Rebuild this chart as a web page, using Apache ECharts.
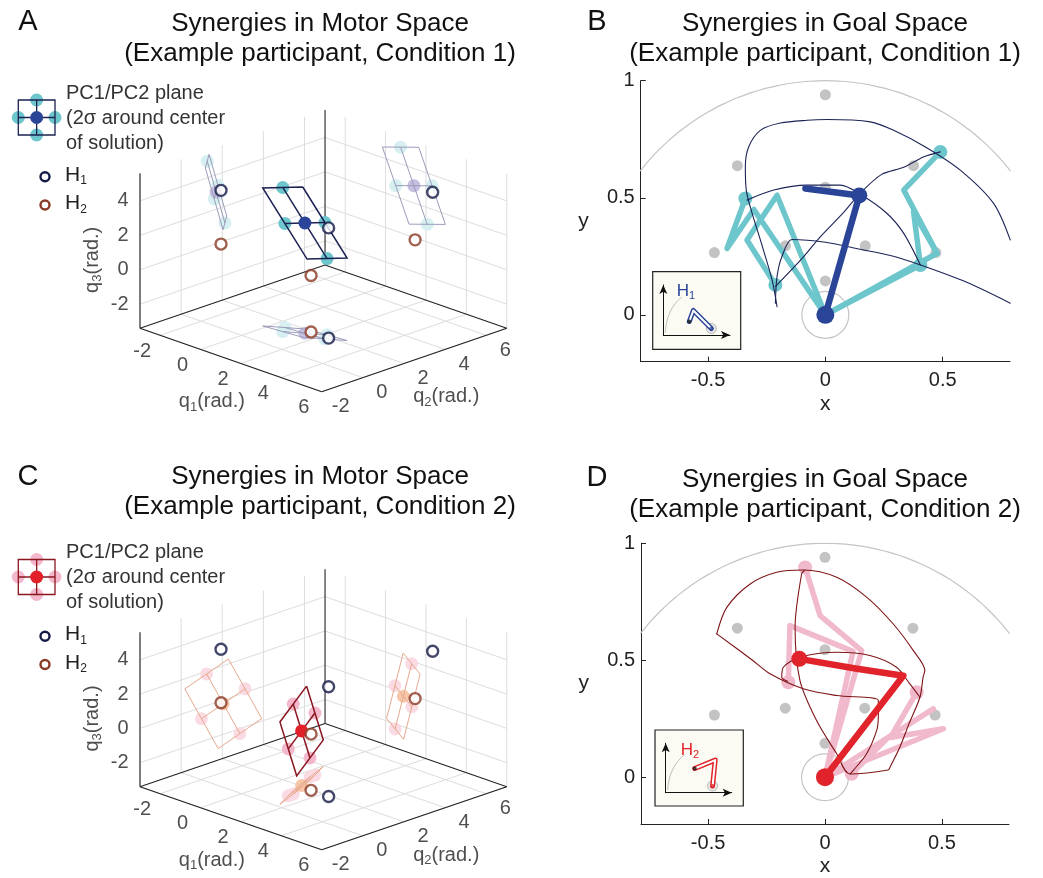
<!DOCTYPE html>
<html>
<head>
<meta charset="utf-8">
<title>Synergies in Motor Space and Goal Space</title>
<script src="https://cdn.jsdelivr.net/npm/echarts@6/dist/echarts.min.js"></script>
<style>
  html, body { margin: 0; padding: 0; background: #fff; }
  #chart { width: 1043px; height: 878px; }
</style>
</head>
<body>
<div id="chart"></div>
<script>
// ---------- motor space (A, C): joint angles in rad ----------
const q1Ticks = [-2, 0, 2, 4, 6]
const q2Ticks = [-2, 0, 2, 4, 6]
const q3Ticks = [-2, 0, 2, 4]
const q1Range = [-3, 6]
const q2Range = [-2, 7]
const q3Range = [-3.4, 5.6]

const h1Motor = [2.33, 1.94, 3.0]
const h2Motor = [1.46, 1.94, -0.12]

// center of solution + 2 sigma half axes of the PC1/PC2 plane
const cond1Center = [1.4, 1.7, 3.0]
const cond1Pc1 = [-0.66, -0.43, 1.97]
const cond1Pc2 = [0.9, 0.09, 0.36]
const cond2Center = [0.88, 2.05, -0.22]
const cond2Pc1 = [0.41, -0.81, 2.07]
const cond2Pc2 = [-0.42, 1.06, 0.44]

// ---------- goal space (B, D): hand position ----------
const xTicks = [-0.5, 0, 0.5]
const yTicks = [0, 0.5, 1]
const targetX = [0, -0.375, 0.376, -0.473, 0.471, 0, -0.17, 0.17, 0]
const targetY = [0.94, 0.637, 0.637, 0.266, 0.266, 0.545, 0.295, 0.295, 0.145]
const reachRadius = 1
const homeRadius = 0.1

const cond1Arm = [[0, 0], [0.145, 0.51], [-0.085, 0.54]]
const cond1Variants = [
  [[0, 0], [-0.305, 0.45], [-0.419, 0.284], [-0.341, 0.497]],
  [[0, 0], [-0.206, 0.511], [-0.334, 0.32], [-0.213, 0.128]],
  [[0, 0], [0.476, 0.263], [0.334, 0.533], [0.49, 0.696]],
  [[0, 0], [0.405, 0.213], [0.376, 0.44], [0.476, 0.263]]
]
const cond1Ends = [[-0.341, 0.497], [-0.213, 0.128], [0.49, 0.696], [0.405, 0.213]]
const cond1Edges = [
  [[-0.206, 0.035], [-0.227, 0.149], [-0.277, 0.32], [-0.312, 0.433], [-0.337, 0.533], [-0.341, 0.632], [-0.327, 0.717], [-0.277, 0.788], [-0.192, 0.819], [-0.078, 0.831], [0.007, 0.834], [0.192, 0.824], [0.291, 0.788], [0.43, 0.715], [0.575, 0.618], [0.717, 0.476], [0.788, 0.32]],
  [[-0.334, 0.49], [-0.22, 0.533], [-0.078, 0.554], [0.064, 0.554], [0.149, 0.515], [0.263, 0.433], [0.334, 0.348], [0.405, 0.213]],
  [[-0.213, 0.05], [-0.206, 0.163], [-0.185, 0.249], [-0.142, 0.322], [0, 0.31], [0.149, 0.28], [0.29, 0.25], [0.405, 0.213], [0.6, 0.14], [0.788, 0.05]],
  [[-0.213, 0.121], [-0.1, 0.24], [-0.021, 0.334], [0.08, 0.44], [0.149, 0.52], [0.24, 0.6], [0.334, 0.63], [0.42, 0.675], [0.49, 0.696]]
]

const cond2Arm = [[0, 0], [0.335, 0.434], [0.13, 0.465], [-0.11, 0.506]]
const cond2Variants = [
  [[0, 0], [0.157, 0.541], [-0.021, 0.691], [-0.085, 0.897]],
  [[0, 0], [0.12, 0.538], [-0.15, 0.648], [-0.157, 0.406]],
  [[0, 0], [0.506, 0.207], [0.28, 0.17], [0.392, 0.363]],
  [[0, 0], [0.463, 0.292], [0.27, 0.17], [0.114, 0.015]]
]
const cond2Ends = [[-0.085, 0.897], [-0.157, 0.406], [0.392, 0.363], [0.114, 0.015]]
const cond2Edges = [
  [[-0.463, 0.613], [-0.42, 0.726], [-0.32, 0.826], [-0.207, 0.876], [-0.093, 0.886], [0.05, 0.855], [0.178, 0.77], [0.292, 0.655], [0.378, 0.541], [0.427, 0.456], [0.42, 0.43], [0.406, 0.342], [0.36, 0.23], [0.32, 0.128], [0.278, 0.043], [0.27, 0.031], [0.107, 0.014], [0.05, 0.1], [-0.036, 0.242], [-0.107, 0.413], [-0.128, 0.641], [-0.1, 0.869], [-0.085, 0.886]],
  [[-0.463, 0.613], [-0.31, 0.5], [-0.235, 0.442], [-0.093, 0.378], [0.05, 0.349], [0.228, 0.328], [0.228, 0.26], [0.221, 0.2], [0.178, 0.1], [0.121, 0.029], [0.107, 0.014]],
  [[-0.16, 0.41], [-0.185, 0.427], [-0.178, 0.47], [-0.107, 0.513], [0.05, 0.534], [0.192, 0.52], [0.306, 0.47], [0.363, 0.399], [0.406, 0.342]]
]

// small sketch of the hand in the insets (inset units 0..1)
const insetArc = [[0.03, 0.05], [0.05, 0.25], [0.1, 0.45], [0.18, 0.63], [0.28, 0.76]]
const insetArmH1 = [[0.72, 0.13], [0.45, 0.49], [0.39, 0.27]]
const insetArmH2 = [[0.71, 0.135], [0.75, 0.66], [0.44, 0.49]]

const font = 'Liberation Sans, Arial, Helvetica, sans-serif'
const h1Color = '#141a46'
const h2Color = '#8a3a24'
const cond1Style = { plane: '#1b2152', dot: '#6cc6cc', center: '#2a4597', shadowLine: '#9c9cbc', shadowDot: '#d6eff1', shadowCenter: '#c6bfe0', arm: '#2a4597', variant: '#6cc6cc', edge: '#1c2457' }
const cond2Style = { plane: '#8a1620', dot: '#f3b8cb', center: '#e2202a', shadowLine: '#e8a88e', shadowDot: '#fadbe3', shadowCenter: '#f6c7a9', arm: '#e1232b', variant: '#f1b9cc', edge: '#7e1416' }

// oblique view used for the motor space cubes (pixel units of the hidden axes)
const view = { x0: 140, y0: 328.3, e1: [20.19, 7.04], e2: [20.56, -7.04], e3: [0, -17.22] }
function proj (p) {
  const a = p[0] - q1Range[0]
  const b = p[1] - q2Range[0]
  const c = p[2] - q3Range[0]
  return [view.x0 + a * view.e1[0] + b * view.e2[0] + c * view.e3[0],
    view.y0 + a * view.e1[1] + b * view.e2[1] + c * view.e3[1]]
}
const add = (p, v, s) => p.map((x, i) => x + s * v[i])
const onLeftWall = p => [q1Range[0], p[1], p[2]]
const onRightWall = p => [p[0], q2Range[1], p[2]]
const onFloor = p => [p[0], p[1], q3Range[0]]

const richSub = {
  a: { fontFamily: font, fontSize: 20, color: '#222', lineHeight: 24 },
  s: { fontFamily: font, fontSize: 13, color: '#222', lineHeight: 9, verticalAlign: 'bottom' }
}

function motorPanel (gi, center, pc1, pc2, c) {
  const [q1a, q1b] = q1Range
  const [q2a, q2b] = q2Range
  const [q3a, q3b] = q3Range
  const seg = (p, q) => ({ coords: [proj(p), proj(q)] })
  const walls = []
  q2Ticks.forEach(t => walls.push(seg([q1a, t, q3a], [q1a, t, q3b]), seg([q1a, t, q3a], [q1b, t, q3a])))
  q1Ticks.forEach(t => walls.push(seg([t, q2b, q3a], [t, q2b, q3b]), seg([t, q2a, q3a], [t, q2b, q3a])))
  q3Ticks.forEach(t => walls.push(seg([q1a, q2a, t], [q1a, q2b, t]), seg([q1a, q2b, t], [q1b, q2b, t])))
  const frame = [
    seg([q1a, q2a, q3a], [q1a, q2a, q3b]),
    seg([q1a, q2b, q3a], [q1a, q2b, q3b]),
    seg([q1a, q2a, q3a], [q1b, q2a, q3a]),
    seg([q1b, q2a, q3a], [q1b, q2b, q3a]),
    seg([q1a, q2b, q3a], [q1a, q2a, q3a]),
    seg([q1a, q2b, q3a], [q1b, q2b, q3a])
  ]
  const corners = [[1, 1], [1, -1], [-1, -1], [-1, 1], [1, 1]].map(([s, u]) => add(add(center, pc1, s), pc2, u))
  const ends = [[1, 0], [-1, 0], [0, 1], [0, -1]].map(([s, u]) => add(add(center, pc1, s), pc2, u))
  const plane = f => [
    { coords: corners.map(p => proj(f(p))) },
    { coords: [proj(f(ends[0])), proj(f(ends[1]))] },
    { coords: [proj(f(ends[2])), proj(f(ends[3]))] }
  ]
  const lines = (data, color, width, z) => ({
    type: 'lines', coordinateSystem: 'cartesian2d', xAxisIndex: gi, yAxisIndex: gi,
    polyline: true, silent: true, z, lineStyle: { color, width, opacity: 1 }, data
  })
  const dots = (pts, color, size, z, ring) => ({
    type: 'scatter', xAxisIndex: gi, yAxisIndex: gi, silent: true, z, symbolSize: size,
    itemStyle: ring ? { color: '#fff', borderColor: color, borderWidth: 2.4 } : { color, opacity: 1 },
    data: pts.map(proj)
  })
  const labels = (pts, texts, opt) => ({
    type: 'scatter', xAxisIndex: gi, yAxisIndex: gi, silent: true, z: 9, symbolSize: 1,
    itemStyle: { color: 'rgba(0,0,0,0)' },
    data: pts.map(proj),
    label: Object.assign({ show: true, position: 'inside', fontFamily: font, fontSize: 20, color: '#222', formatter: p => texts[p.dataIndex] }, opt)
  })
  const s = [lines(walls, '#dddddd', 1, 1), lines(frame, '#222', 1.1, 2)]
  ;[onLeftWall, onRightWall, onFloor].forEach(f => {
    s.push(dots(ends.map(f), c.shadowDot, 13, 3))
    s.push(dots([f(center)], c.shadowCenter, 13, 3))
    s.push(lines(plane(f), c.shadowLine, 1, 4))
  })
  s.push(dots(ends, c.dot, 13, 5))
  s.push(lines(plane(p => p), c.plane, 1.5, 6))
  s.push(dots([center], c.center, 13, 7))
  const withShadows = p => [p, onLeftWall(p), onRightWall(p), onFloor(p)]
  s.push(dots(withShadows(h1Motor), h1Color, 11, 8, true))
  s.push(dots(withShadows(h2Motor), h2Color, 11, 8, true))
  s.push(labels(q1Ticks.map(t => [t, q2a, q3a]), q1Ticks.map(String), { offset: [-18, 16] }))
  s.push(labels(q2Ticks.map(t => [q1b, t, q3a]), q2Ticks.map(String), { offset: [19, 15] }))
  s.push(labels(q3Ticks.map(t => [q1a, q2a, t]), q3Ticks.map(String), { position: 'left', distance: 11 }))
  s.push(labels([[(q1a + q1b) / 2, q2a, q3a]], ['{a|q}{s|1}{a|(rad.)}'], { offset: [-19, 42], rich: richSub }))
  s.push(labels([[q1b, (q2a + q2b) / 2, q3a]], ['{a|q}{s|2}{a|(rad.)}'], { offset: [32, 37], rich: richSub }))
  s.push(labels([[q1a, q2a, (q3a + q3b) / 2]], ['{a|q}{s|3}{a|(rad.)}'], { offset: [-9, -48], rotate: 90, rich: richSub }))
  return s
}

function arcPoints (r, a0, a1, step) {
  const pts = []
  for (let a = a0; a <= a1 + 1e-9; a += step) {
    const t = a * Math.PI / 180
    pts.push([r * Math.cos(t), r * Math.sin(t)])
  }
  return pts
}

function goalPanel (gi, c, arm, variants, ends, edges) {
  const line = (data, color, width, z, smooth) => ({
    type: 'line', xAxisIndex: gi, yAxisIndex: gi, data, symbol: 'none', silent: true, z,
    smooth: smooth || false, lineStyle: { color, width, cap: 'round', join: 'round' }
  })
  const dots = (data, color, size, z) => ({
    type: 'scatter', xAxisIndex: gi, yAxisIndex: gi, data, symbolSize: size, silent: true, z,
    itemStyle: { color, opacity: 1 }
  })
  const s = [
    line(arcPoints(reachRadius, 38, 142, 2), '#c4c4c4', 1.2, 1, true),
    line(arcPoints(homeRadius, 0, 360, 10), '#c4c4c4', 1.2, 1, true),
    dots(targetX.map((x, i) => [x, targetY[i]]), '#c3c3c3', 11, 2)
  ]
  variants.forEach(v => s.push(line(v, c.variant, 5.5, 3)))
  s.push(dots(ends, c.variant, 14, 3))
  edges.forEach(e => s.push(line(e, c.edge, 1.1, 4, 0.3)))
  s.push(line(arm, c.arm, 6.5, 5))
  s.push(dots([arm[0]], c.arm, 18, 6))
  s.push(dots([gi === 2 ? arm[1] : arm[arm.length - 1]], c.arm, 16, 6))
  return s
}

function insetSeries (gi, armPts, color) {
  return [
    { type: 'line', xAxisIndex: gi, yAxisIndex: gi, data: insetArc, symbol: 'none', smooth: true, silent: true, z: 3, lineStyle: { color: '#bbb', width: 1 } },
    { type: 'scatter', xAxisIndex: gi, yAxisIndex: gi, data: [armPts[0]], symbolSize: 10, silent: true, z: 3, itemStyle: { color: '#e4e4e4', borderColor: '#aaa', borderWidth: 1 } },
    { type: 'line', xAxisIndex: gi, yAxisIndex: gi, data: armPts, symbol: 'none', silent: true, z: 4, lineStyle: { color, width: 5, cap: 'round', join: 'round' } },
    { type: 'line', xAxisIndex: gi, yAxisIndex: gi, data: armPts, symbol: 'none', silent: true, z: 5, lineStyle: { color: '#fff', width: 2, cap: 'round', join: 'round' } },
    { type: 'scatter', xAxisIndex: gi, yAxisIndex: gi, data: [armPts[armPts.length - 1]], symbolSize: 4, silent: true, z: 6, itemStyle: { color: '#111' } },
    { type: 'scatter', xAxisIndex: gi, yAxisIndex: gi, data: [armPts[0]], symbolSize: 4, silent: true, z: 6, itemStyle: { color } }
  ]
}

function legendGraphic (dy, c) {
  const x0 = 18.3; const y0 = 100 + dy; const w = 36.7; const h = 35
  const cx = x0 + w / 2; const cy = y0 + h / 2
  const txt = (x, y, text) => ({ type: 'text', x, y, style: { text, font: '20px ' + font, fill: '#333', verticalAlign: 'middle' } })
  const subText = (x, y, d) => ({
    type: 'text', x, y,
    style: { text: '{a|H}{s|' + d + '}', verticalAlign: 'middle', rich: { a: { font: '21px ' + font, fill: '#222', lineHeight: 24 }, s: { font: '12px ' + font, fill: '#222', lineHeight: 8, verticalAlign: 'bottom' } } }
  })
  return [
    { type: 'circle', shape: { cx, cy: y0, r: 6.5 }, style: { fill: c.dot } },
    { type: 'circle', shape: { cx, cy: y0 + h, r: 6.5 }, style: { fill: c.dot } },
    { type: 'circle', shape: { cx: x0, cy, r: 6.5 }, style: { fill: c.dot } },
    { type: 'circle', shape: { cx: x0 + w, cy, r: 6.5 }, style: { fill: c.dot } },
    { type: 'rect', shape: { x: x0, y: y0, width: w, height: h }, style: { fill: 'none', stroke: c.plane, lineWidth: 1.3 } },
    { type: 'line', shape: { x1: cx, y1: y0, x2: cx, y2: y0 + h }, style: { stroke: c.plane, lineWidth: 1.3 } },
    { type: 'line', shape: { x1: x0, y1: cy, x2: x0 + w, y2: cy }, style: { stroke: c.plane, lineWidth: 1.3 } },
    { type: 'circle', shape: { cx, cy, r: 6.5 }, style: { fill: c.center } },
    txt(66, 93.3 + dy, 'PC1/PC2 plane'),
    txt(66, 118 + dy, '(2σ around center'),
    txt(66, 143 + dy, 'of solution)'),
    { type: 'circle', shape: { cx: 45, cy: 176.7 + dy, r: 4.5 }, style: { fill: '#fff', stroke: h1Color, lineWidth: 2.4 } },
    { type: 'circle', shape: { cx: 45, cy: 205 + dy, r: 4.5 }, style: { fill: '#fff', stroke: h2Color, lineWidth: 2.4 } },
    subText(65, 175 + dy, 1),
    subText(65, 203.5 + dy, 2)
  ]
}

const letter = (x, y, t) => ({ type: 'text', x, y, style: { text: t, font: '29px ' + font, fill: '#111', align: 'center', verticalAlign: 'middle' } })
const insetLabel = (x, y, d, fill) => ({
  type: 'text', x, y,
  style: { text: '{a|H}{s|' + d + '}', align: 'center', verticalAlign: 'middle', rich: { a: { font: '17px ' + font, fill, lineHeight: 20 }, s: { font: '11px ' + font, fill, lineHeight: 7, verticalAlign: 'bottom' } } }
})

// grids: 0 A, 1 C, 2 B, 3 D, 4 B inset box, 5 B inset axes, 6 D inset box, 7 D inset axes
const grids = [
  { left: 0, top: 60, width: 520, height: 360 },
  { left: 0, top: 519.5, width: 520, height: 360 },
  { left: 640.7, top: 80.7, width: 369.3, height: 281 },
  { left: 641, top: 543.3, width: 368, height: 280.7 },
  { left: 652.7, top: 271.7, width: 88, height: 77.6, show: true, backgroundColor: '#fbfbf3', borderColor: '#222', borderWidth: 1.2 },
  { left: 663.3, top: 285, width: 66.7, height: 50 },
  { left: 655, top: 730, width: 88.3, height: 76, show: true, backgroundColor: '#fbfbf3', borderColor: '#222', borderWidth: 1.2 },
  { left: 665.7, top: 743.3, width: 66, height: 49.4 }
]
const hidden = { show: false }
const pixelX = gi => ({ type: 'value', gridIndex: gi, min: 0, max: 520, show: false })
const pixelY = gi => ({ type: 'value', gridIndex: gi, min: 60, max: 420, inverse: true, show: false })
const goalX = gi => ({
  type: 'value', gridIndex: gi, min: -0.787, max: 0.787,
  axisLine: { onZero: false, lineStyle: { color: '#222', width: 1 } },
  axisTick: { inside: true, length: 5, customValues: xTicks, lineStyle: { color: '#222' } },
  axisLabel: { customValues: xTicks, fontFamily: font, fontSize: 20, color: '#222', margin: 9 },
  splitLine: hidden, name: 'x', nameLocation: 'middle', nameGap: 32,
  nameTextStyle: { fontFamily: font, fontSize: 21, color: '#222' }
})
const goalY = gi => ({
  type: 'value', gridIndex: gi, min: -0.2, max: 1,
  axisLine: { onZero: false, lineStyle: { color: '#222', width: 1 } },
  axisTick: { inside: true, length: 5, customValues: yTicks, lineStyle: { color: '#222' } },
  axisLabel: { customValues: yTicks, fontFamily: font, fontSize: 20, color: '#222', margin: 6 },
  splitLine: hidden, name: 'y', nameLocation: 'middle', nameRotate: 0, nameGap: 52,
  nameTextStyle: { fontFamily: font, fontSize: 21, color: '#222' }
})
const boxAxis = gi => ({ type: 'value', gridIndex: gi, min: 0, max: 1, show: false })
const arrowAxis = gi => ({
  type: 'value', gridIndex: gi, min: 0, max: 1,
  axisLine: { onZero: false, symbol: ['none', 'arrow'], symbolSize: [6, 9], lineStyle: { color: '#111', width: 1 } },
  axisTick: hidden, axisLabel: hidden, splitLine: hidden
})

const titleStyle = { fontFamily: font, fontSize: 26, fontWeight: 'normal', color: '#111', lineHeight: 30 }
const title = (text, left, top) => ({ text, left, top, padding: 0, textAlign: 'center', textStyle: titleStyle })
const option = {
  animation: false,
  backgroundColor: '#fff',
  title: [
    title('Synergies in Motor Space\n(Example participant, Condition 1)', 320, 9),
    title('Synergies in Goal Space\n(Example participant, Condition 1)', 825, 9),
    title('Synergies in Motor Space\n(Example participant, Condition 2)', 320, 462),
    title('Synergies in Goal Space\n(Example participant, Condition 2)', 825, 465)
  ],
  grid: grids,
  xAxis: [pixelX(0), pixelX(1), goalX(2), goalX(3), boxAxis(4), arrowAxis(5), boxAxis(6), arrowAxis(7)],
  yAxis: [pixelY(0), pixelY(1), goalY(2), goalY(3), boxAxis(4), arrowAxis(5), boxAxis(6), arrowAxis(7)],
  graphic: [
    letter(28, 22, 'A'), letter(597, 22, 'B'), letter(28, 477, 'C'), letter(597, 478, 'D'),
    ...legendGraphic(0, cond1Style),
    ...legendGraphic(459.5, cond2Style),
    insetLabel(686, 291, 1, '#2a4597'),
    insetLabel(690, 750, 2, '#e1232b')
  ],
  series: [
    ...motorPanel(0, cond1Center, cond1Pc1, cond1Pc2, cond1Style),
    ...motorPanel(1, cond2Center, cond2Pc1, cond2Pc2, cond2Style),
    ...goalPanel(2, cond1Style, cond1Arm, cond1Variants, cond1Ends, cond1Edges),
    ...goalPanel(3, cond2Style, cond2Arm, cond2Variants, cond2Ends, cond2Edges),
    ...insetSeries(5, insetArmH1, '#2a4597'),
    ...insetSeries(7, insetArmH2, '#e1232b')
  ]
}

const chart = echarts.init(document.getElementById('chart'))
chart.setOption(option)
</script>
</body>
</html>
